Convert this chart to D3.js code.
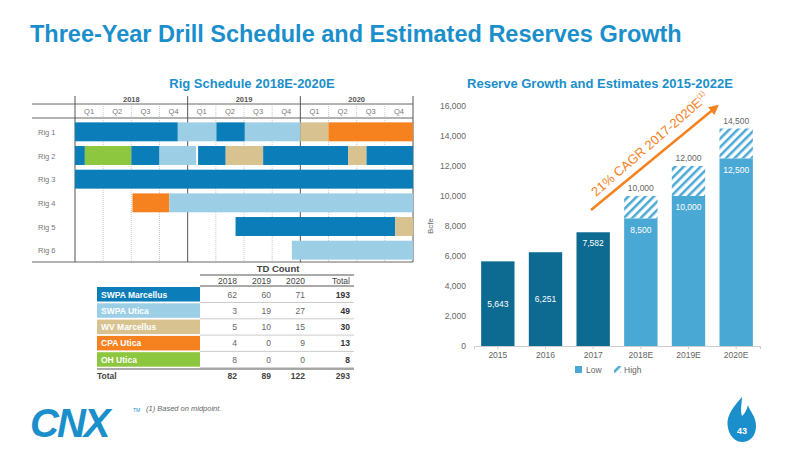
<!DOCTYPE html>
<html><head><meta charset="utf-8">
<script src="https://cdn.jsdelivr.net/npm/d3@7"></script>
<style>body{margin:0;background:#fff}svg{font-family:"Liberation Sans",Arial,sans-serif}</style>
</head><body><svg id="c" width="800" height="450"></svg>
<script>
// ---- data ----
const years=["2018","2019","2020"];
const quarters=["Q1","Q2","Q3","Q4"];
const rigs=["Rig 1","Rig 2","Rig 3","Rig 4","Rig 5","Rig 6"];
// segments: [rig, startQuarter, endQuarter, play]
const rigSegments=[
 ["Rig 1",0,3.65,"SWPA Marcellus"],["Rig 1",3.65,5.02,"SWPA Utica"],["Rig 1",5.02,6.03,"SWPA Marcellus"],["Rig 1",6.03,8,"SWPA Utica"],["Rig 1",8,9,"WV Marcellus"],["Rig 1",9,12,"CPA Utica"],
 ["Rig 2",0,0.35,"SWPA Marcellus"],["Rig 2",0.35,2,"OH Utica"],["Rig 2",2,3,"SWPA Marcellus"],["Rig 2",3,4.3,"SWPA Utica"],["Rig 2",4.37,5.35,"SWPA Marcellus"],["Rig 2",5.35,6.68,"WV Marcellus"],["Rig 2",6.68,9.7,"SWPA Marcellus"],["Rig 2",9.7,10.35,"WV Marcellus"],["Rig 2",10.35,12,"SWPA Marcellus"],
 ["Rig 3",0,12,"SWPA Marcellus"],
 ["Rig 4",2.04,3.35,"CPA Utica"],["Rig 4",3.35,12,"SWPA Utica"],
 ["Rig 5",5.7,11.37,"SWPA Marcellus"],["Rig 5",11.37,12,"WV Marcellus"],
 ["Rig 6",7.7,12,"SWPA Utica"]];
const plays=["SWPA Marcellus","SWPA Utica","WV Marcellus","CPA Utica","OH Utica"];
const playColors=["#0b7db8","#9ccfe6","#d8c28f","#f5821f","#8dc63f"];
const tdCounts=[[62,60,71,193],[3,19,27,49],[5,10,15,30],[4,0,9,13],[8,0,0,8]];
const tdTotals=[82,89,122,293];
const resYears=["2015","2016","2017","2018E","2019E","2020E"];
const resLow=[5643,6251,7582,8500,10000,12500];
const resHigh=[null,null,null,10000,12000,14500];
const yTicks=[0,2000,4000,6000,8000,10000,12000,14000,16000];

const svg=d3.select("#c");
const fmt=d3.format(",");
const defs=svg.append("defs");
const pat=defs.append("pattern").attr("id","hatch").attr("patternUnits","userSpaceOnUse").attr("width",6).attr("height",6).attr("patternTransform","rotate(45)");
pat.append("rect").attr("width",6).attr("height",6).attr("fill","#fff");
pat.append("rect").attr("width",2.5).attr("height",6).attr("fill","#4aa9d4");

svg.append("text").attr("x",30).attr("y",42).attr("fill","#1a8fcb").attr("font-size",23.5).attr("font-weight","bold").text("Three-Year Drill Schedule and Estimated Reserves Growth");
svg.append("text").attr("x",252).attr("y",88).attr("text-anchor","middle").attr("fill","#1a8fcb").attr("font-size",13).attr("font-weight","bold").text("Rig Schedule 2018E-2020E");
svg.append("text").attr("x",600).attr("y",88).attr("text-anchor","middle").attr("fill","#1a8fcb").attr("font-size",13).attr("font-weight","bold").text("Reserve Growth and Estimates 2015-2022E");

// ---- gantt ----
const gx=d3.scaleLinear().domain([0,12]).range([75,413]);
const gy=d3.scaleBand().domain(rigs).range([120,262]).paddingInner(0.2).paddingOuter(0.1);
const colorOf=d3.scaleOrdinal().domain(plays).range(playColors);
const g=svg.append("g");
g.append("line").attr("x1",32).attr("x2",413).attr("y1",104).attr("y2",104).attr("stroke","#666");
g.append("line").attr("x1",32).attr("x2",413).attr("y1",118).attr("y2",118).attr("stroke","#666");
g.append("line").attr("x1",32).attr("x2",413).attr("y1",262).attr("y2",262).attr("stroke","#666");
years.forEach((y,i)=>g.append("text").attr("x",gx(i*4+2)).attr("y",102).attr("text-anchor","middle").attr("font-size",7.5).attr("fill","#555").attr("font-weight","bold").text(y));
d3.range(12).forEach(q=>g.append("text").attr("x",gx(q+0.5)).attr("y",114).attr("text-anchor","middle").attr("font-size",7.5).attr("fill","#777").text(quarters[q%4]));
d3.range(13).forEach(q=>g.append("line").attr("x1",gx(q)).attr("x2",gx(q)).attr("y1",q%4==0?96:106).attr("y2",262)
  .attr("stroke",q%4==0?"#555":"#bbb").attr("stroke-width",q%4==0?1:0.8).attr("stroke-dasharray",q%4==0?null:"1,1"));
rigs.forEach(r=>g.append("text").attr("x",38).attr("y",gy(r)+gy.bandwidth()/2+3).attr("font-size",7.5).attr("fill","#777").text(r));
g.selectAll("rect.s").data(rigSegments).join("rect").attr("x",d=>gx(d[1])).attr("width",d=>gx(d[2])-gx(d[1]))
 .attr("y",d=>gy(d[0])).attr("height",gy.bandwidth()).attr("fill",d=>colorOf(d[3]));

// ---- table ----
const tx=[237,271,305,350];
const t=svg.append("g");
t.append("text").attr("x",278).attr("y",272).attr("text-anchor","middle").attr("font-size",9.5).attr("font-weight","bold").attr("fill","#444").text("TD Count");
t.append("line").attr("x1",200).attr("x2",354).attr("y1",275).attr("y2",275).attr("stroke","#555");
t.append("line").attr("x1",200).attr("x2",354).attr("y1",286).attr("y2",286).attr("stroke","#555");
["2018","2019","2020","Total"].forEach((h,i)=>t.append("text").attr("x",tx[i]).attr("y",284).attr("text-anchor","end").attr("font-size",8.5).attr("fill","#444").text(h));
plays.forEach((p,r)=>{
  const y=287+r*16.3;
  t.append("rect").attr("x",97).attr("y",y).attr("width",103).attr("height",14.5).attr("fill",playColors[r]);
  t.append("text").attr("x",101).attr("y",y+10.5).attr("font-size",8.5).attr("font-weight","bold").attr("fill","#fff").text(p);
  t.append("line").attr("x1",200).attr("x2",354).attr("y1",y+15.5).attr("y2",y+15.5).attr("stroke","#ccc");
  tdCounts[r].forEach((v,i)=>t.append("text").attr("x",tx[i]).attr("y",y+10.5).attr("text-anchor","end").attr("font-size",8.5).attr("fill",i==3?"#333":"#666").attr("font-weight",i==3?"bold":null).text(v));
});
t.append("line").attr("x1",97).attr("x2",354).attr("y1",369).attr("y2",369).attr("stroke","#555");
t.append("text").attr("x",97).attr("y",379).attr("font-size",8.5).attr("font-weight","bold").attr("fill","#444").text("Total");
tdTotals.forEach((v,i)=>t.append("text").attr("x",tx[i]).attr("y",379).attr("text-anchor","end").attr("font-size",8.5).attr("font-weight","bold").attr("fill","#444").text(v));

// ---- bar chart ----
const x=d3.scaleBand().domain(resYears).range([474,760]).paddingInner(0.3).paddingOuter(0.15);
const y=d3.scaleLinear().domain([0,16000]).range([346,106]);
const b=svg.append("g");
b.append("g").attr("transform","translate(474,0)").call(d3.axisLeft(y).tickValues(yTicks).tickFormat(fmt).tickSize(0).tickPadding(8))
 .call(a=>a.select(".domain").remove()).call(a=>a.selectAll("text").attr("font-size",8.5).attr("fill","#666").attr("font-family","Liberation Sans"));
b.append("g").attr("transform","translate(0,346)").call(d3.axisBottom(x).tickSize(3).tickPadding(3))
 .call(a=>a.selectAll("line,path").attr("stroke","#ccc")).call(a=>a.selectAll("text").attr("font-size",8.5).attr("fill","#666").attr("font-family","Liberation Sans"));
b.append("text").attr("transform","translate(433,226) rotate(-90)").attr("text-anchor","middle").attr("font-size",8).attr("fill","#666").text("Bcfe");
resYears.forEach((yr,i)=>{
  const est=resHigh[i]!=null, c=est?"#4aa9d4":"#0d6a91";
  if(est){
    b.append("rect").attr("x",x(yr)).attr("width",x.bandwidth()).attr("y",y(resHigh[i])).attr("height",y(resLow[i])-y(resHigh[i])).attr("fill","url(#hatch)");
    b.append("text").attr("x",x(yr)+x.bandwidth()/2).attr("y",y(resHigh[i])-5).attr("text-anchor","middle").attr("font-size",8.5).attr("fill","#666").text(fmt(resHigh[i]));
  }
  b.append("rect").attr("x",x(yr)).attr("width",x.bandwidth()).attr("y",y(resLow[i])).attr("height",346-y(resLow[i])).attr("fill",c);
  const ly=i<2?y(resLow[i]/2)+3:y(resLow[i])+14;
  b.append("text").attr("x",x(yr)+x.bandwidth()/2).attr("y",ly).attr("text-anchor","middle").attr("font-size",8.5).attr("fill","#fff").text(fmt(resLow[i]));
});
// arrow
defs.append("marker").attr("id","ah").attr("viewBox","0 0 10 10").attr("refX",5).attr("refY",5).attr("markerWidth",4).attr("markerHeight",4).attr("orient","auto").append("path").attr("d","M0,0L10,5L0,10z").attr("fill","#f5821f");
b.append("line").attr("x1",591).attr("y1",210).attr("x2",715).attr("y2",108).attr("stroke","#f5821f").attr("stroke-width",2.5).attr("marker-end","url(#ah)");
b.append("text").attr("transform","translate(596,197) rotate(-41)").attr("font-size",13).attr("fill","#f5821f").text("21% CAGR 2017-2020E").append("tspan").attr("font-size",7).attr("dy",-6).text("(1)");
// legend
b.append("rect").attr("x",575).attr("y",366).attr("width",7).attr("height",7).attr("fill","#4aa9d4");
b.append("text").attr("x",586).attr("y",373).attr("font-size",8.5).attr("fill","#666").text("Low");
b.append("rect").attr("x",614).attr("y",366).attr("width",7).attr("height",7).attr("fill","url(#hatch)");
b.append("text").attr("x",624).attr("y",373).attr("font-size",8.5).attr("fill","#666").text("High");

// footer
svg.append("text").attr("x",30).attr("y",437).attr("font-size",40).attr("font-weight","bold").attr("font-style","italic").attr("fill","#1a8fcb").attr("letter-spacing",-2).text("CNX");
svg.append("text").attr("x",133).attr("y",412).attr("font-size",5).attr("fill","#1a8fcb").text("TM");
svg.append("text").attr("x",146).attr("y",411).attr("font-size",7.5).attr("font-style","italic").attr("fill","#666").text("(1)  Based on midpoint.");
svg.append("path").attr("d","M742,397 C730,410 726,418 728,428 C730,438 737,442 742,442 C750,442 756,436 756,426 C756,416 750,412 748,405 C746,412 744,414 742,416 C740,410 742,402 742,397Z").attr("fill","#1a8fcb");
svg.append("text").attr("x",742).attr("y",434).attr("text-anchor","middle").attr("font-size",9).attr("font-weight","bold").attr("fill","#fff").text("43");
</script></body></html>
